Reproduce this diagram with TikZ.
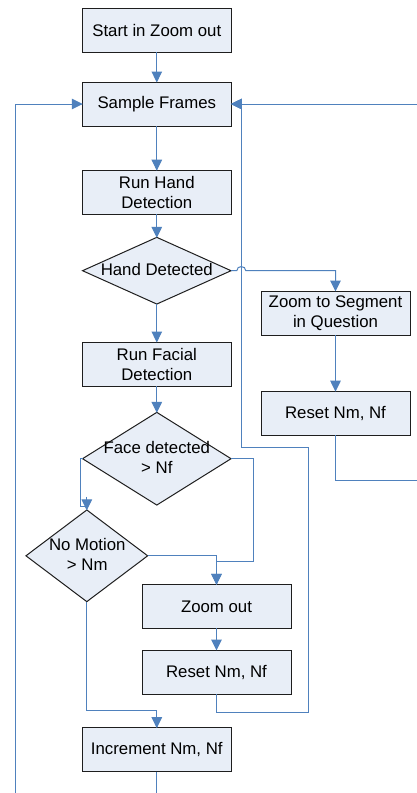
\documentclass[tikz,border=0pt]{standalone}
\usepackage{fontspec}
\setmainfont{Liberation Sans}
\usetikzlibrary{arrows.meta,shapes.geometric,calc}
\definecolor{boxfill}{RGB}{232,238,247}
\definecolor{boxline}{RGB}{30,30,30}
\definecolor{flowblue}{RGB}{79,129,189}

\begin{document}
\begin{tikzpicture}[x=1pt,y=-1pt,
  every node/.style={font=\fontsize{16.8}{20}\selectfont, align=center, inner sep=0pt, outer sep=0pt},
  procbox/.style={draw=boxline, fill=boxfill, line width=1pt, minimum width=149pt, minimum height=44pt},
  decision/.style={diamond, draw=boxline, fill=boxfill, line width=1pt},
  flow/.style={draw=flowblue, line width=1pt},
  arr/.style={flow, -{Triangle[length=11pt,width=10.5pt]}, shorten >=-0.5pt},
]
% page frame
\path[use as bounding box] (0,0) rectangle (417,793);
\fill[white] (0,0) rectangle (417,793);
\clip (0,0) rectangle (417,793);

% process steps
\node[procbox] (start)     at (156.8,30)    {Start in Zoom out};
\node[procbox] (sample)    at (156.8,104)   {Sample Frames};
\node[procbox] (runhand)   at (156.8,192.2) {Run Hand\\Detection};
\node[decision, minimum width=148.5pt, minimum height=66.7pt] (hand) at (156.8,270.7) {};
\node at ($(hand.center)+(0,-1.4)$) {Hand Detected};
\node[procbox] (runfacial) at (156.8,364)   {Run Facial\\Detection};
\node[decision, minimum width=148.5pt, minimum height=92.7pt] (face) at (156.8,458.7) {};
\node at ($(face.center)+(0,-1.5)$) {Face detected\\> Nf};
\node[decision, minimum width=121.7pt, minimum height=91.7pt] (nomotion) at (86.8,555.8) {};
\node at ($(nomotion.center)+(0.5,-1.3)$) {No Motion\\> Nm};
\node[procbox] (zoomseg)   at (335.5,313)   {Zoom to Segment\\in Question};
\node[procbox] (resetR)    at (335.5,413.2) {Reset Nm, Nf};
\node[procbox] (zoomout)   at (216.5,606.3) {Zoom out};
\node[procbox] (resetL)    at (216.5,672)   {Reset Nm, Nf};
\node[procbox] (increment) at (156.8,749.7) {Increment Nm, Nf};

% loop-back rails
\coordinate (backx) at (241.3,104);
\coordinate (farR)  at (432,104);
\coordinate (farB)  at (15.5,808);

% main column
\draw[arr] (start.south) -- (sample.north);
\draw[arr] (sample.south) -- (runhand.north);
\draw[arr] (runhand.south) -- (hand.north);
\draw[arr] (hand.south) -- (runfacial.north);
\draw[arr] (runfacial.south) -- (face.north);

% hand found: zoom in on the segment (hops over the return rail)
\draw[arr] (hand.east) -- ($(backx |- hand.east)+(-4.5,0)$)
  .. controls +(0,-5.5) and +(0,-5.5) .. ($(backx |- hand.east)+(4.5,0)$)
  -- (zoomseg.north |- hand.east) -- (zoomseg.north);
\draw[arr] (zoomseg.south) -- (resetR.north);
\draw[arr] (resetR.south) -- ++(0,44.8) -| (farR) -- (sample.east);

% face check
\draw[arr] (face.east) -- ++(22.7,0) -- ++(0,103) -| (zoomout.north);
\draw[flow] (face.west) -- ++(-2.5,0) |- ($(nomotion.north)+(0,-3.5)$);
\draw[arr] ($(nomotion.north)+(0,-13)$) -- (nomotion.north);

% motion check
\draw[arr] (nomotion.east) -| (zoomout.north);
\draw[arr] (nomotion.south) |- ($(increment.north)+(0,-17.7)$) -- (increment.north);
\draw[arr] (zoomout.south) -- (resetL.north);
\draw[arr] (resetL.south) -- ++(0,18) -| (308.7,447.3) -| (backx) -- (sample.east);

% increment and loop
\draw[arr] (increment.south) |- (farB) |- (sample.west);
\end{tikzpicture}
\end{document}
